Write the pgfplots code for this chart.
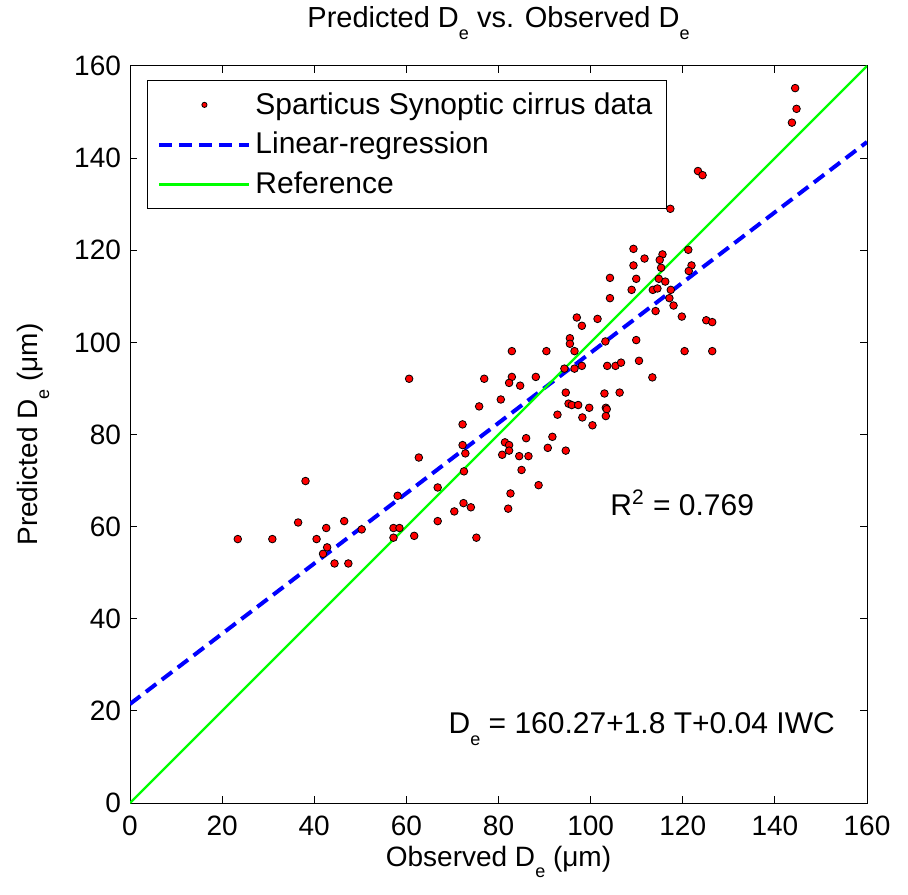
\documentclass[border=0pt]{standalone}
\usepackage{fontspec}
\setmainfont{Liberation Sans}
\usepackage{pgfplots}
\usepackage{pgfplotstable}
\pgfplotsset{compat=1.18}

\definecolor{refgreen}{rgb}{0,1,0}
\newcommand{\De}{D\raisebox{-0.75ex}{\small e}}

% observed vs predicted effective diameter
\pgfplotstableread{
obs pred
60.6 92.1
62.7 75.0
38.1 69.9
66.8 68.5
58.1 66.7
36.5 60.9
46.5 61.2
42.6 59.7
50.3 59.4
57.2 59.7
58.5 59.7
23.4 57.3
30.9 57.3
40.5 57.3
57.2 57.6
61.7 58.0
66.8 61.2
42.8 55.5
41.9 54.1
44.4 52.0
47.4 52.0
97.0 105.4
95.5 100.9
95.5 99.7
96.5 98.1
82.9 98.1
90.4 98.1
94.3 94.3
96.5 94.3
76.9 92.1
82.9 92.5
82.3 91.2
88.1 92.5
84.7 90.6
80.5 87.6
75.8 86.1
94.6 89.1
95.2 86.7
95.9 86.4
97.3 86.4
92.8 84.3
98.2 83.7
100.4 82.0
72.2 82.2
72.2 77.7
72.8 75.9
81.4 78.3
82.3 77.7
82.3 76.5
80.8 75.6
86.0 79.2
91.7 79.5
90.7 77.1
94.6 76.5
84.5 75.3
86.5 75.3
85.0 72.3
72.5 72.0
88.7 69.0
82.6 67.2
72.4 65.1
74.0 64.2
70.4 63.3
82.1 63.9
75.2 57.6
123.3 137.2
124.3 136.3
117.3 129.0
109.3 120.3
115.6 119.1
121.2 120.1
111.7 118.2
115.0 117.9
109.3 116.7
115.3 116.2
121.9 116.7
121.3 115.5
104.2 114.0
109.9 113.8
114.8 113.8
116.2 113.2
108.9 111.4
113.5 111.4
114.5 111.7
117.4 111.4
104.2 109.6
117.1 109.6
118.0 108.0
114.1 106.8
119.8 105.6
101.5 105.1
98.1 103.6
125.1 104.8
126.4 104.4
109.9 100.5
103.2 100.2
120.4 98.1
126.4 98.1
98.1 94.9
103.6 94.9
105.4 94.9
106.6 95.6
110.5 96.0
113.4 92.4
103.0 88.9
106.3 89.1
99.7 85.8
103.3 85.8
103.5 85.5
103.3 84.0
144.4 155.2
144.7 150.7
143.7 147.7
}\sparticus

\begin{document}
\begin{tikzpicture}
\path[use as bounding box] (-65pt,-45.5pt) rectangle (389pt,401.5pt);
\begin{axis}[
    at={(0,0)}, anchor=south west,
    width=368.5pt, height=368.5pt, scale only axis,
    xmin=0, xmax=160, ymin=0, ymax=160,
    xtick={0,20,...,160}, ytick={0,20,...,160},
    /pgf/number format/assume math mode=true,
    tick label style={font=\fontsize{14}{16}\selectfont},
    major tick length=3.5pt,
    axis line style={line width=0.5pt},
    every tick/.style={black, line width=0.5pt},
    xticklabel style={yshift=-3pt},
    yticklabel style={xshift=-1pt},
    label style={font=\fontsize{14}{16}\selectfont},
    title style={font=\fontsize{14.5}{16}\selectfont, at={(0.5,1.042)}, anchor=center},
    title={Predicted \De{} vs. Observed \De},
    xlabel={Observed \De{} (μm)},
    ylabel={Predicted \De{} (μm)},
    xlabel style={at={(0.5,-0.080)}, anchor=center},
    ylabel style={at={(-0.131,0.5)}, anchor=center},
    legend image code/.code={\draw[mark repeat=2,mark phase=2,#1] plot coordinates {(0pt,0pt) (22.5pt,0pt) (45pt,0pt)};},
    legend style={at={(0.023,0.981)}, anchor=north west, draw=black, line width=0.5pt,
        font=\fontsize{15}{18}\selectfont, inner xsep=5pt, inner ysep=4pt,
        row sep=3.5pt, cells={anchor=west}},
    legend cell align=left,
]
\addplot[only marks, mark=*, mark size=1.9pt, mark options={fill=red, draw=black, line width=0.4pt},
    legend image post style={mark size=1.3pt}] table[x=obs, y=pred] {\sparticus};
\addlegendentry{Sparticus Synoptic cirrus data}
\addplot[blue, line width=2pt, dash pattern=on 6.5pt off 3.5pt] coordinates {(0,21.5) (160,143.5)};
\addlegendentry{Linear-regression}
\addplot[refgreen, line width=1.2pt] coordinates {(0,0) (160,160)};
\addlegendentry{Reference}
\node[anchor=base west, inner sep=0pt, font=\fontsize{15}{18}\selectfont] at (axis cs:104.2,62.5) {R\textsuperscript{2} = 0.769};
\node[anchor=base west, inner sep=0pt, font=\fontsize{15}{18}\selectfont] at (axis cs:69.1,15.1) {\De{} = 160.27+1.8 T+0.04 IWC};
\end{axis}
\end{tikzpicture}
\end{document}
